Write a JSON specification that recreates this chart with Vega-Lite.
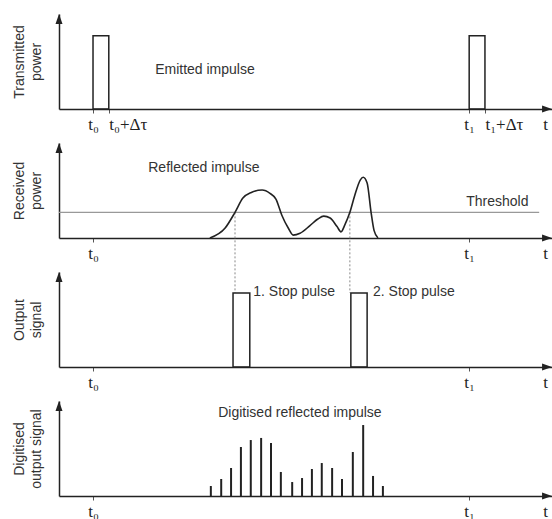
{
  "$schema": "https://vega.github.io/schema/vega-lite/v6.json",
  "background": "white",
  "padding": {"left": 12, "top": 14, "right": 0, "bottom": 0},
  "spacing": 34,
  "bounds": "flush",
  "config": {
    "view": {"stroke": null},
    "font": "Liberation Sans",
    "axisX": {
      "domainColor": "#222", "domainWidth": 1.5,
      "tickColor": "#555", "tickSize": 4, "tickWidth": 1,
      "tickOpacity": {"condition": {"test": "datum.value > 98", "value": 0}, "value": 1},
      "labelFont": "Liberation Serif", "labelFontSize": 17, "labelColor": "#222",
      "labelPadding": 3, "labelDx": 1, "labelAngle": 0,
      "labelFlush": false, "labelOverlap": false,
      "labelExpr": "datum.value == 6.9 ? 't₀' : datum.value == 10.1 ? 't₀+Δτ' : datum.value == 83.2 ? 't₁' : datum.value == 86.4 ? 't₁+Δτ' : 't'",
      "grid": false, "title": null
    },
    "axisY": {
      "domainColor": "#222", "domainWidth": 1.5,
      "ticks": false, "labels": false, "grid": false,
      "titleFont": "Liberation Sans", "titleFontSize": 14, "titleFontWeight": "normal",
      "titleColor": "#333", "titleLineHeight": 17, "titlePadding": 16
    },
    "text": {"font": "Liberation Sans", "fontSize": 14, "fill": "#333", "align": "left", "baseline": "middle"}
  },
  "datasets": {
    "tx": [{"t": 6.9, "t2": 10.1, "v": 77}, {"t": 83.2, "t2": 86.4, "v": 77}],
    "txLabel": [{"t": 19.5, "v": 41, "label": "Emitted impulse"}],
    "rx": [
      {"t": 30.6, "v": 0}, {"t": 33.7, "v": 10.5}, {"t": 35.7, "v": 27}, {"t": 37.3, "v": 42},
      {"t": 39.0, "v": 48}, {"t": 41.2, "v": 50.5}, {"t": 42.8, "v": 47}, {"t": 44.0, "v": 41},
      {"t": 45.2, "v": 24}, {"t": 46.5, "v": 10.5}, {"t": 47.5, "v": 3}, {"t": 48.9, "v": 5},
      {"t": 50.9, "v": 13}, {"t": 52.5, "v": 20}, {"t": 53.7, "v": 23}, {"t": 55.0, "v": 21},
      {"t": 56.4, "v": 12}, {"t": 57.2, "v": 6.5}, {"t": 58.0, "v": 14}, {"t": 59.0, "v": 27},
      {"t": 60.0, "v": 45}, {"t": 61.1, "v": 61}, {"t": 61.7, "v": 64}, {"t": 62.5, "v": 58},
      {"t": 63.3, "v": 27}, {"t": 63.9, "v": 8}, {"t": 64.7, "v": 0}
    ],
    "threshold": [{"t": 0, "t2": 97.4, "v": 27}],
    "stopLinks": [{"t": 35.7, "v": 27, "v2": -57.8}, {"t": 59.0, "v": 27, "v2": -57.8}],
    "rxLabel": [{"t": 18.1, "v": 74, "label": "Reflected impulse"}, {"t": 82.6, "v": 38, "label": "Threshold"}],
    "stops": [{"t": 35.3, "t2": 38.7, "v": 78}, {"t": 59.2, "t2": 62.5, "v": 78}],
    "stopLabel": [{"t": 39.4, "v": 79, "label": "1. Stop pulse"}, {"t": 63.7, "v": 79, "label": "2. Stop pulse"}],
    "digital": [
      {"t": 30.8, "v": 10.5}, {"t": 32.9, "v": 17.9}, {"t": 34.9, "v": 29.5}, {"t": 36.9, "v": 51.6},
      {"t": 38.9, "v": 58.9}, {"t": 41.0, "v": 61.1}, {"t": 43.0, "v": 55.8}, {"t": 45.0, "v": 25.3},
      {"t": 47.3, "v": 14.7}, {"t": 49.3, "v": 18.9}, {"t": 51.3, "v": 28.4}, {"t": 53.3, "v": 34.7},
      {"t": 55.4, "v": 29.5}, {"t": 57.4, "v": 17.9}, {"t": 59.6, "v": 46.3}, {"t": 61.7, "v": 74.7},
      {"t": 63.7, "v": 21.1}, {"t": 65.7, "v": 10.5}
    ],
    "digitalLabel": [{"t": 32.3, "v": 87.4, "label": "Digitised reflected impulse"}],
    "axes": [{"t": 0, "v": 94.7, "dir": "up"}, {"t": 99.0, "v": 0, "dir": "right"}]
  },
  "vconcat": [
    {
      "width": 493, "height": 95,
      "encoding": {
        "x": {"field": "t", "type": "quantitative", "scale": {"domain": [0, 100], "nice": false, "zero": false},
              "axis": {"values": [6.9, 10.1, 83.2, 86.4, 98.6],
                       "labelAlign": {"condition": {"test": "datum.value == 10.1 || datum.value == 86.4", "value": "left"}, "value": "center"}}},
        "y": {"field": "v", "type": "quantitative", "scale": {"domain": [0, 100], "nice": false, "zero": false},
              "axis": {"title": ["Transmitted", "power"]}}
      },
      "layer": [
        {"data": {"name": "tx"}, "mark": {"type": "rect", "fill": "transparent", "stroke": "#222", "strokeWidth": 1.5},
         "encoding": {"x2": {"field": "t2"}, "y2": {"datum": 0}}},
        {"data": {"name": "txLabel"}, "mark": {"type": "text"}, "encoding": {"text": {"field": "label"}}},
        {"data": {"name": "axes"},
         "mark": {"type": "point", "filled": true, "color": "#222", "opacity": 1, "size": 100},
         "encoding": {"shape": {"field": "dir", "type": "nominal", "scale": {"domain": ["up", "right"], "range": ["M0,-1L-0.7,1L0.7,1Z", "M1,0L-1,-0.7L-1,0.7Z"]}, "legend": null}}}
      ]
    },
    {
      "width": 493, "height": 95,
      "encoding": {
        "x": {"field": "t", "type": "quantitative", "scale": {"domain": [0, 100], "nice": false, "zero": false},
              "axis": {"values": [6.9, 83.2, 98.6]}},
        "y": {"field": "v", "type": "quantitative", "scale": {"domain": [0, 100], "nice": false, "zero": false},
              "axis": {"title": ["Received", "power"]}}
      },
      "layer": [
        {"data": {"name": "threshold"}, "mark": {"type": "rule", "color": "#999", "strokeWidth": 1.2},
         "encoding": {"x2": {"field": "t2"}}},
        {"data": {"name": "stopLinks"}, "mark": {"type": "rule", "color": "#888", "strokeWidth": 1, "strokeDash": [2, 2]},
         "encoding": {"y2": {"field": "v2"}}},
        {"data": {"name": "rx"}, "mark": {"type": "line", "color": "#222", "strokeWidth": 1.6, "interpolate": "monotone"},
         "encoding": {}},
        {"data": {"name": "rxLabel"}, "mark": {"type": "text"}, "encoding": {"text": {"field": "label"}}},
        {"data": {"name": "axes"},
         "mark": {"type": "point", "filled": true, "color": "#222", "opacity": 1, "size": 100},
         "encoding": {"shape": {"field": "dir", "type": "nominal", "scale": {"domain": ["up", "right"], "range": ["M0,-1L-0.7,1L0.7,1Z", "M1,0L-1,-0.7L-1,0.7Z"]}, "legend": null}}}
      ]
    },
    {
      "width": 493, "height": 95,
      "encoding": {
        "x": {"field": "t", "type": "quantitative", "scale": {"domain": [0, 100], "nice": false, "zero": false},
              "axis": {"values": [6.9, 83.2, 98.6]}},
        "y": {"field": "v", "type": "quantitative", "scale": {"domain": [0, 100], "nice": false, "zero": false},
              "axis": {"title": ["Output", "signal"]}}
      },
      "layer": [
        {"data": {"name": "stops"}, "mark": {"type": "rect", "fill": "transparent", "stroke": "#222", "strokeWidth": 1.5},
         "encoding": {"x2": {"field": "t2"}, "y2": {"datum": 0}}},
        {"data": {"name": "stopLabel"}, "mark": {"type": "text"}, "encoding": {"text": {"field": "label"}}},
        {"data": {"name": "axes"},
         "mark": {"type": "point", "filled": true, "color": "#222", "opacity": 1, "size": 100},
         "encoding": {"shape": {"field": "dir", "type": "nominal", "scale": {"domain": ["up", "right"], "range": ["M0,-1L-0.7,1L0.7,1Z", "M1,0L-1,-0.7L-1,0.7Z"]}, "legend": null}}}
      ]
    },
    {
      "width": 493, "height": 95,
      "encoding": {
        "x": {"field": "t", "type": "quantitative", "scale": {"domain": [0, 100], "nice": false, "zero": false},
              "axis": {"values": [6.9, 83.2, 98.6]}},
        "y": {"field": "v", "type": "quantitative", "scale": {"domain": [0, 100], "nice": false, "zero": false},
              "axis": {"title": ["Digitised", "output signal"]}}
      },
      "layer": [
        {"data": {"name": "digital"}, "mark": {"type": "rule", "color": "#222", "strokeWidth": 2},
         "encoding": {"y2": {"datum": 0}}},
        {"data": {"name": "digitalLabel"}, "mark": {"type": "text"}, "encoding": {"text": {"field": "label"}}},
        {"data": {"name": "axes"},
         "mark": {"type": "point", "filled": true, "color": "#222", "opacity": 1, "size": 100},
         "encoding": {"shape": {"field": "dir", "type": "nominal", "scale": {"domain": ["up", "right"], "range": ["M0,-1L-0.7,1L0.7,1Z", "M1,0L-1,-0.7L-1,0.7Z"]}, "legend": null}}}
      ]
    }
  ]
}
